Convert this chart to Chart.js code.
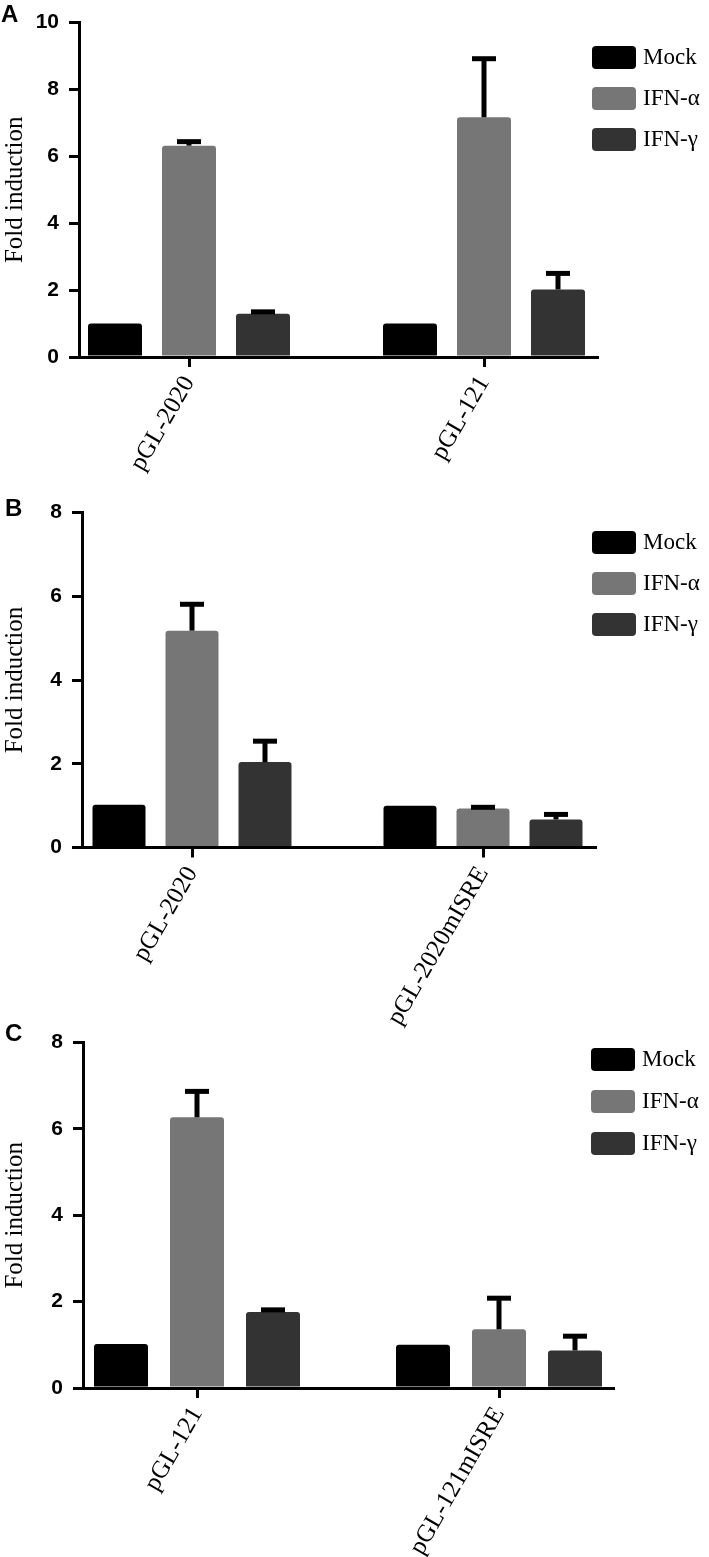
<!DOCTYPE html>
<html>
<head>
<meta charset="utf-8">
<script src="https://cdn.jsdelivr.net/npm/chart.js@4.4.1/dist/chart.umd.min.js"></script>
<style>
  html, body { margin: 0; padding: 0; background: #ffffff; }
  body { width: 709px; height: 1557px; position: relative; overflow: hidden; }
  canvas { position: absolute; left: 0; }
</style>
</head>
<body>
<canvas id="cA" width="709" height="500" style="top:0px"></canvas>
<canvas id="cB" width="709" height="560" style="top:490px"></canvas>
<canvas id="cC" width="709" height="537" style="top:1020px"></canvas>
<script>
// ---------- DATA ----------
const seriesNames = ['Mock', 'IFN-α', 'IFN-γ'];
const seriesColors = ['#000000', '#767676', '#333333'];

const catsA = ['pGL-2020', 'pGL-121'];
const mockA = [1.0, 1.0];
const alphaA = [6.32, 7.17];
const gammaA = [1.29, 2.02];
const mockErrA = [0, 0];
const alphaErrA = [0.12, 1.75];
const gammaErrA = [0.06, 0.48];
const yTicksA = [0, 2, 4, 6, 8, 10];

const catsB = ['pGL-2020', 'pGL-2020mISRE'];
const mockB = [1.02, 1.0];
const alphaB = [5.18, 0.93];
const gammaB = [2.04, 0.67];
const mockErrB = [0, 0];
const alphaErrB = [0.63, 0.03];
const gammaErrB = [0.5, 0.12];
const yTicksB = [0, 2, 4, 6, 8];

const catsC = ['pGL-121', 'pGL-121mISRE'];
const mockC = [1.02, 1.0];
const alphaC = [6.27, 1.36];
const gammaC = [1.76, 0.87];
const mockErrC = [0, 0];
const alphaErrC = [0.6, 0.72];
const gammaErrC = [0.05, 0.33];
const yTicksC = [0, 2, 4, 6, 8];

// ---------- STYLE ----------
Chart.defaults.font.family = "'Liberation Sans', Arial, sans-serif";
Chart.defaults.color = '#000000';

const errorBarPlugin = {
  id: 'errorBars',
  afterDatasetsDraw(chart, args, opts) {
    const ctx = chart.ctx;
    const ys = chart.scales.y;
    ctx.save();
    ctx.strokeStyle = '#000000';
    ctx.lineWidth = 5;
    ctx.lineCap = 'butt';
    chart.data.datasets.forEach((ds, di) => {
      const meta = chart.getDatasetMeta(di);
      meta.data.forEach((bar, i) => {
        const err = ds.errors ? ds.errors[i] : 0;
        if (!err) return;
        const v = ds.data[i].y;
        const yTop = ys.getPixelForValue(v + err);
        const yBar = ys.getPixelForValue(v);
        ctx.beginPath();
        ctx.moveTo(bar.x, yBar);
        ctx.lineTo(bar.x, yTop);
        ctx.stroke();
        ctx.beginPath();
        ctx.moveTo(bar.x - 12, yTop);
        ctx.lineTo(bar.x + 12, yTop);
        ctx.stroke();
      });
    });
    ctx.restore();
  }
};

const legendPlugin = {
  id: 'customLegend',
  afterDraw(chart, args, opts) {
    const ctx = chart.ctx;
    ctx.save();
    chart.data.datasets.forEach((ds, i) => {
      const y = opts.y0 + i * opts.dy;
      ctx.fillStyle = ds.backgroundColor;
      ctx.beginPath();
      ctx.roundRect(opts.x, y, 44, 23, 4);
      ctx.fill();
      ctx.fillStyle = '#000000';
      ctx.font = "23px 'Liberation Serif', 'Times New Roman', serif";
      ctx.textBaseline = 'middle';
      ctx.textAlign = 'left';
      ctx.fillText(ds.label, opts.x + 51, y + 12);
    });
    ctx.restore();
  }
};

const panelLetterPlugin = {
  id: 'panelLetter',
  afterDraw(chart, args, opts) {
    const ctx = chart.ctx;
    ctx.save();
    ctx.fillStyle = '#000000';
    ctx.font = "bold 24px 'Liberation Sans', Arial, sans-serif";
    ctx.textBaseline = 'alphabetic';
    ctx.textAlign = 'left';
    ctx.fillText(opts.text, opts.x, opts.y);
    ctx.restore();
  }
};

function makePanel(id, p) {
  const span = p.c1 - p.c0;
  const xmin = (p.axisLeft - p.c0) / span;
  const xmax = (p.axisRight - p.c0) / span;
  const canvas = document.getElementById(id);
  const H = canvas.height;
  const sets = [p.mock, p.alpha, p.gamma];
  const errs = [p.mockErr, p.alphaErr, p.gammaErr];
  const datasets = sets.map((arr, si) => ({
    label: seriesNames[si],
    data: arr.map((v, i) => ({ x: i, y: v })),
    errors: errs[si],
    backgroundColor: seriesColors[si],
    borderWidth: 0,
    borderRadius: 3,
    categoryPercentage: (p.chunk * 3) / span,
    barPercentage: p.barW / p.chunk
  }));
  return new Chart(canvas, {
    type: 'bar',
    data: { datasets },
    options: {
      responsive: false,
      animation: false,
      devicePixelRatio: 1,
      layout: { padding: { top: p.top, right: 709 - p.axisRight, left: 0, bottom: 0 } },
      plugins: {
        legend: { display: false },
        tooltip: { enabled: false },
        customLegend: p.legend,
        panelLetter: p.letter
      },
      scales: {
        x: {
          type: 'linear',
          offset: false,
          min: xmin,
          max: xmax,
          afterFit(scale) { scale.height = H - p.bottom; },
          afterBuildTicks(scale) { scale.ticks = p.cats.map((c, i) => ({ value: i })); },
          grid: { offset: false, drawOnChartArea: false, drawTicks: true, tickLength: 10, lineWidth: 3, color: '#000000' },
          border: { display: true, width: 3, color: '#000000' },
          ticks: {
            autoSkip: false,
            minRotation: 60,
            maxRotation: 60,
            padding: 4,
            color: '#000000',
            font: { family: "'Liberation Serif', 'Times New Roman', serif", size: 25 },
            callback: (v) => p.cats[v]
          }
        },
        y: {
          min: 0,
          max: p.yTicks[p.yTicks.length - 1],
          afterFit(scale) { scale.width = p.axisLeft; },
          afterBuildTicks(scale) { scale.ticks = p.yTicks.map(v => ({ value: v })); },
          grid: { drawOnChartArea: false, drawTicks: true, tickLength: 10, lineWidth: 3, color: '#000000' },
          border: { display: true, width: 3, color: '#000000' },
          ticks: {
            padding: 10,
            color: '#000000',
            font: { family: "'Liberation Sans', Arial, sans-serif", size: 21, weight: 'bold' }
          },
          title: {
            display: true,
            text: 'Fold induction',
            color: '#000000',
            padding: { top: 0, bottom: 0 },
            font: { family: "'Liberation Serif', 'Times New Roman', serif", size: 25 }
          }
        }
      }
    },
    plugins: [errorBarPlugin, legendPlugin, panelLetterPlugin]
  });
}

makePanel('cA', {
  cats: catsA, mock: mockA, alpha: alphaA, gamma: gammaA,
  mockErr: mockErrA, alphaErr: alphaErrA, gammaErr: gammaErrA, yTicks: yTicksA,
  axisLeft: 79, axisRight: 597, top: 13, bottom: 357,
  c0: 189, c1: 484, chunk: 74, barW: 54,
  legend: { x: 592, y0: 46, dy: 41 },
  letter: { text: 'A', x: 1, y: 22 }
});

makePanel('cB', {
  cats: catsB, mock: mockB, alpha: alphaB, gamma: gammaB,
  mockErr: mockErrB, alphaErr: alphaErrB, gammaErr: gammaErrB, yTicks: yTicksB,
  axisLeft: 82, axisRight: 595, top: 17, bottom: 357.5,
  c0: 192, c1: 483, chunk: 73, barW: 53,
  legend: { x: 592, y0: 41, dy: 41 },
  letter: { text: 'B', x: 5, y: 26 }
});

makePanel('cC', {
  cats: catsC, mock: mockC, alpha: alphaC, gamma: gammaC,
  mockErr: mockErrC, alphaErr: alphaErrC, gammaErr: gammaErrC, yTicks: yTicksC,
  axisLeft: 83, axisRight: 613, top: 14, bottom: 368,
  c0: 197, c1: 499, chunk: 76, barW: 54,
  legend: { x: 591, y0: 28, dy: 42 },
  letter: { text: 'C', x: 5, y: 21 }
});
</script>
</body>
</html>
